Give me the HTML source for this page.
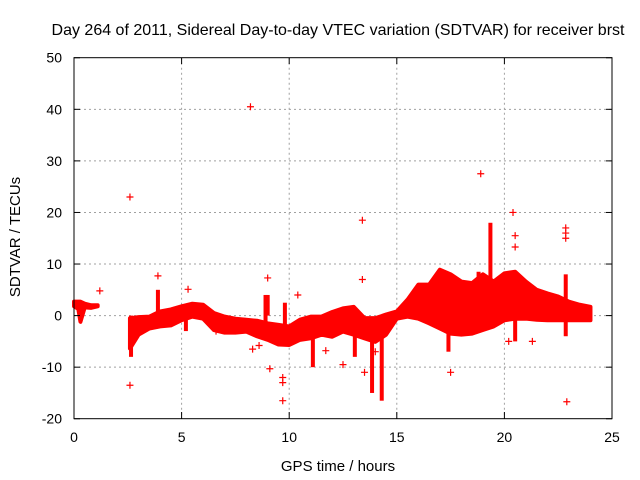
<!DOCTYPE html>
<html><head><meta charset="utf-8"><style>
body{margin:0;background:#fff}
svg{display:block;font-family:"Liberation Sans",sans-serif}
</style></head><body>
<svg id="chart" width="640" height="480">
<text x="338" y="35" font-size="16" text-anchor="middle">Day 264 of 2011, Sidereal Day-to-day VTEC variation (SDTVAR) for receiver brst</text>
<text x="338" y="471" font-size="15" text-anchor="middle">GPS time / hours</text>
<text x="20" y="237" font-size="15" text-anchor="middle" transform="rotate(-90 20 237)">SDTVAR / TECUs</text>
<g id="grid"></g>
<g id="marks"></g>
<rect x="74" y="57.7" width="538" height="361" fill="none" stroke="#000" stroke-width="1"/>
<g id="ticks"></g>
</svg>
<script>
const xTicks=[0,5,10,15,20,25];
const yTicks=[-20,-10,0,10,20,30,40,50];
const seg1T=[0,0.2,0.3,0.5,0.8,1.1];
const seg1Top=[3,3,3,2.6,2.3,2.3];
const seg1Bot=[1.5,1.0,-1.5,1.3,1.2,1.5];
const bandT=[2.6,3,3.5,4,4.5,5,5.5,6,6.5,7,7.5,8,8.5,9,9.5,10,10.5,11,11.5,12,12.5,13,13.5,14,14.5,15,15.5,16,16.5,17,17.5,18,18.5,19,19.5,20,20.5,21,21.5,22,22.5,23,23.5,24];
const bandTop=[-0.2,0,0.1,1.1,1.5,2.1,2.6,2.4,0.8,0.1,-0.3,-0.5,-0.7,-1.2,-1.5,-1.8,-0.5,0.1,0.1,1.0,1.7,2,-0.2,-0.2,0.5,1.1,3.4,6.3,6.3,9.2,8.3,6.9,6.6,8.3,6.9,8.5,8.8,6.9,5.3,4.6,4,3,2.4,2];
const bandBot=[-6.7,-4,-2.8,-2.4,-2.2,-1.2,-0.5,-0.9,-3.1,-3.6,-3.6,-3.4,-4.3,-5,-5.9,-6,-5,-4.7,-4,-4.4,-3.4,-4,-4.7,-5.4,-4,-0.9,-0.5,-0.9,-1.8,-2.8,-3.8,-4,-3.8,-3.1,-2.4,-1.2,-0.9,-0.9,-1.1,-1.2,-1.2,-1.2,-1.2,-1.2];
const plumeT=[2.65,13.05,13.85,14.3,11.1,19.35,8.9,3.9,9.0,17.4,20.5,22.85,18.8,9.8,5.2];
const plumeMin=[-8,-8,-15,-16.5,-10,5,-3,0,0,-7,-5,-4,-3,-3,-3];
const plumeMax=[0,0,-3,-3,-3,18,4,5,4,-2,8,8,8.5,2.5,0];
const outT=[8.2,2.6,18.9,20.4,13.4,22.85,22.85,22.85,3.9,9,13.4,1.2,5.3,2.6,9.7,9.7,9.7,9.1,8.3,17.5,22.9,20.5,20.5,10.4,6.6,8.6,11.7,12.5,13.5,14,21.3,20.2];
const outV=[40.5,23,27.5,20,18.5,17,16,15,7.7,7.3,7,4.8,5.1,-13.5,-12,-13,-16.5,-10.3,-6.5,-11,-16.7,15.5,13.3,4,-3,-5.8,-6.8,-9.5,-11,-7,-5,-5];
const X=t=>74+t*538/25;
const Y=v=>315.6-v*361/70;
const NS='http://www.w3.org/2000/svg';
function mk(tag,attrs,parent){const e=document.createElementNS(NS,tag);for(const k in attrs)e.setAttribute(k,attrs[k]);parent.appendChild(e);return e;}
const grid=document.getElementById('grid'),ticks=document.getElementById('ticks'),marks=document.getElementById('marks');
xTicks.forEach(t=>{
 if(t>0&&t<25){const l=mk('line',{x1:X(t),x2:X(t),y1:57.7,y2:418.7,stroke:'#a0a0a0','stroke-dasharray':'2,3'},grid);
 
 }
 mk('line',{x1:X(t),x2:X(t),y1:418.7,y2:412,stroke:'#000'},ticks);
 mk('line',{x1:X(t),x2:X(t),y1:57.7,y2:64,stroke:'#000'},ticks);
 const tx=mk('text',{x:X(t),y:442,'font-size':14,'text-anchor':'middle'},ticks);tx.textContent=t;
 
 
});
yTicks.forEach(v=>{
 if(v>-20&&v<50){const l=mk('line',{x1:74,x2:612,y1:Y(v),y2:Y(v),stroke:'#a0a0a0','stroke-dasharray':'2,3'},grid);
 
 }
 mk('line',{x1:74,x2:80,y1:Y(v),y2:Y(v),stroke:'#000'},ticks);
 mk('line',{x1:612,x2:606,y1:Y(v),y2:Y(v),stroke:'#000'},ticks);
 const tx=mk('text',{x:62,y:Y(v)+5,'font-size':14,'text-anchor':'end'},ticks);tx.textContent=v;
 
 
});
function band(T,top,bot,name){
 let p=T.map((t,i)=>X(t)+','+Y(top[i]-0.3));
 for(let i=T.length-1;i>=0;i--)p.push(X(T[i])+','+Y(bot[i]+0.3));
 const e=mk('polygon',{points:p.join(' '),fill:'#f00',stroke:'#f00','stroke-width':4,'stroke-linejoin':'round'},marks);
 
 
}
band(seg1T,seg1Top,seg1Bot,'band-early');
band(bandT,bandTop,bandBot,'band-main');
plumeT.forEach((t,i)=>{
 const e=mk('rect',{x:X(t)-2,y:Y(plumeMax[i]),width:4,height:Y(plumeMin[i])-Y(plumeMax[i]),fill:'#f00'},marks);
 
 
});
outT.forEach((t,i)=>{
 const x=X(t),y=Y(outV[i]);
 const e=mk('path',{d:`M${x-3.5},${y}H${x+3.5}M${x},${y-3.5}V${y+3.5}`,stroke:'#f00','stroke-width':1.2},marks);
 
 
});
</script>
</body></html>
